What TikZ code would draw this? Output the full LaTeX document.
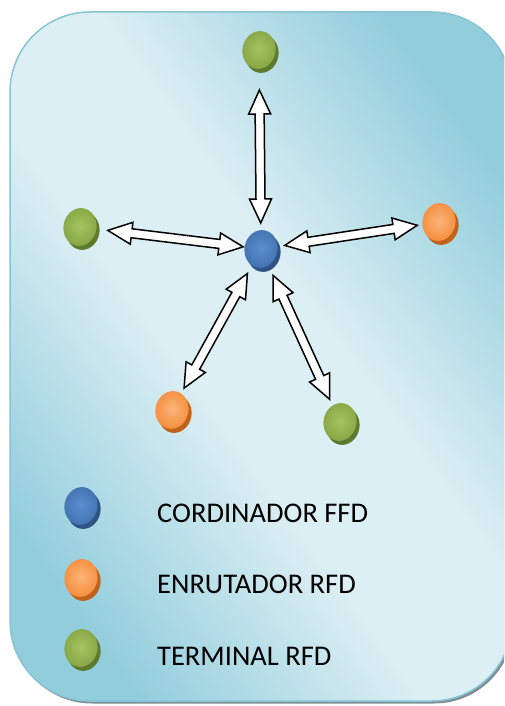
\documentclass[tikz,border=0pt]{standalone}
\usepackage{fontspec}
\setmainfont{Carlito}
\usetikzlibrary{calc,shapes.geometric,shadows}

\definecolor{panelDark}{HTML}{92CDDC}
\definecolor{panelLight}{HTML}{DCEFF4}
\definecolor{panelEdge}{HTML}{86C4D6}
\definecolor{panelShadow}{HTML}{7F8E94}
\definecolor{blueLt}{HTML}{5A8FD0}
\definecolor{blueMid}{HTML}{4472B0}
\definecolor{blueDk}{HTML}{2E5283}
\definecolor{orangeLt}{HTML}{FBB57A}
\definecolor{orangeMid}{HTML}{F58E3E}
\definecolor{orangeDk}{HTML}{C0621A}
\definecolor{greenLt}{HTML}{A6C460}
\definecolor{greenMid}{HTML}{88A645}
\definecolor{greenDk}{HTML}{5E7A2E}

% diagonal wash of the panel: dark, light band, dark
\pgfdeclareverticalshading{panelwash}{100bp}{%
  color(0bp)=(panelDark); color(24bp)=(panelDark);
  color(44bp)=(panelLight); color(56bp)=(panelLight);
  color(76bp)=(panelDark); color(100bp)=(panelDark)}

\tikzset{
  device/.style={ellipse, inner sep=0pt, minimum width=33pt, minimum height=38pt,
    rotate=-12, shading=radial},
  coordnode/.style={device, inner color=blueLt, outer color=blueMid,
    general shadow={shadow xshift=3pt, shadow yshift=-4pt, fill=blueDk}},
  routernode/.style={device, inner color=orangeLt, outer color=orangeMid,
    general shadow={shadow xshift=3pt, shadow yshift=-4pt, fill=orangeDk}},
  endnode/.style={device, inner color=greenLt, outer color=greenMid,
    general shadow={shadow xshift=3pt, shadow yshift=-4pt, fill=greenDk}},
  legendtxt/.style={anchor=base west, inner sep=0pt,
    font=\fontsize{28.5}{30}\selectfont},
  linkarrow/.style={draw=black, fill=white, line width=1.5pt, line join=miter},
}

% double-headed block arrow between two nodes; #3 and #4 set the tips back
% from the centres of #1 and #2
\newcommand\linkArrow[4]{%
  \coordinate (la-s) at ($(#1)!#3!(#2)$);
  \coordinate (la-e) at ($(#2)!#4!(#1)$);
  \coordinate (la-hs) at ($(la-s)!24pt!(la-e)$);
  \coordinate (la-he) at ($(la-e)!24pt!(la-s)$);
  \draw[linkarrow] (la-s)
    -- ($(la-hs)!11pt!90:(la-e)$) -- ($(la-hs)!4.5pt!90:(la-e)$)
    -- ($(la-he)!4.5pt!-90:(la-s)$) -- ($(la-he)!11pt!-90:(la-s)$)
    -- (la-e)
    -- ($(la-he)!11pt!90:(la-s)$) -- ($(la-he)!4.5pt!90:(la-s)$)
    -- ($(la-hs)!4.5pt!-90:(la-e)$) -- ($(la-hs)!11pt!-90:(la-e)$)
    -- cycle;
}

\begin{document}
\begin{tikzpicture}[x=1pt, y=-1pt]
  \useasboundingbox (0,0) rectangle (504,706);
  \clip (0,0) rectangle (504,706);

  % panel with its shadow
  \fill[panelShadow, rounded corners=80pt] (12,14.5) rectangle (514,703.5);
  \draw[draw=panelEdge, line width=1.5pt, rounded corners=80pt,
        shading=panelwash, shading angle=-54]
    (10,12) rectangle (512,701);

  % network
  \node[coordnode]  (c)  at (261,249) {};
  \node[endnode]    (t)  at (259,50)  {};
  \node[endnode]    (l)  at (80,227)  {};
  \node[routernode] (r)  at (439,222) {};
  \node[routernode] (bl) at (172,410) {};
  \node[endnode]    (br) at (340,422) {};

  \linkArrow{t}{c}{40pt}{26pt}
  \linkArrow{l}{c}{28pt}{18pt}
  \linkArrow{r}{c}{22pt}{24pt}
  \linkArrow{bl}{c}{25pt}{28pt}
  \linkArrow{br}{c}{25pt}{29pt}

  % legend
  \node[coordnode]  (kc) at (81,506) {};
  \node[routernode] (kr) at (81,578) {};
  \node[endnode]    (ke) at (81,648) {};
  \node[legendtxt] (tc) at (157,522) {CORDINADOR FFD};
  \node[legendtxt] (tr) at (157,593) {ENRUTADOR RFD};
  \node[legendtxt] (te) at (157,665) {TERMINAL RFD};
\end{tikzpicture}
\end{document}
